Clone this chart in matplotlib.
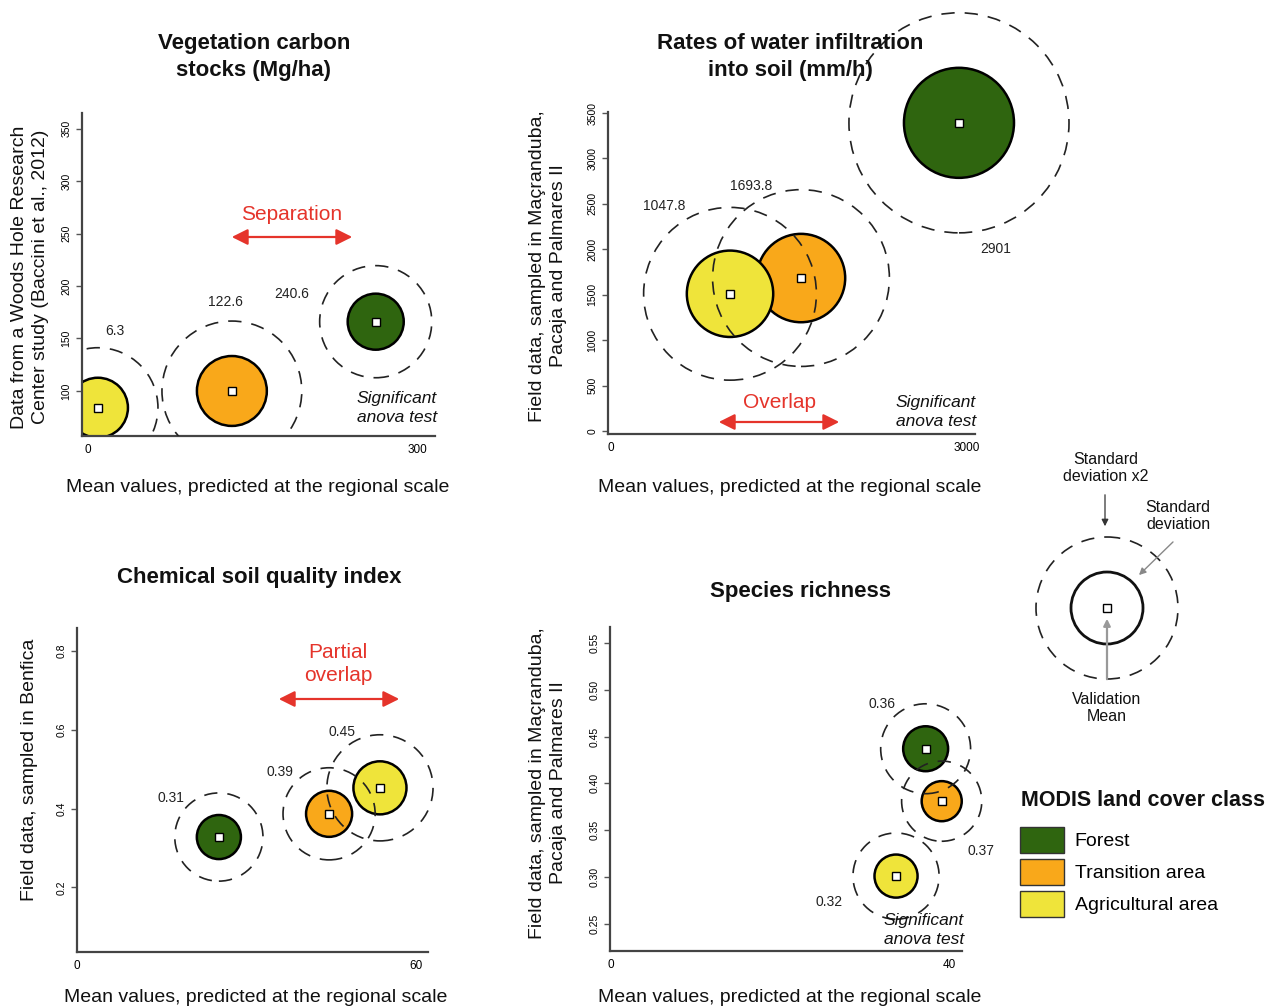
import matplotlib
matplotlib.use('Agg')
import matplotlib.pyplot as plt
from matplotlib.patches import Ellipse, Circle, Patch

plt.rcParams['font.family'] = ['Liberation Sans', 'DejaVu Sans']

W, H = 1273, 1008

# land cover classes (order: forest, transition, agricultural)
classes = ['Forest', 'Transition area', 'Agricultural area']
class_colors = ['#2f650f', '#f9a81a', '#efe43a']
red = '#e5342b'

# Vegetation carbon stocks (Mg/ha)
veg_x = [262, 131, 9]
veg_y = [166, 100, 84]
veg_sd = [26.7, 33.3, 28.6]
veg_labels = ['240.6', '122.6', '6.3']

# Rates of water infiltration (mm/h)
inf_x = [2932, 1601, 1003]
inf_y = [3392, 1685, 1512]
inf_sd = [605, 486, 475]
inf_labels = ['2901', '1693.8', '1047.8']

# Chemical soil quality index
soil_x = [25.1, 44.6, 53.6]
soil_y = [0.328, 0.387, 0.453]
soil_sd = [0.056, 0.0585, 0.0674]
soil_labels = ['0.31', '0.39', '0.45']

# Species richness
rich_x = [37.2, 39.1, 33.7]
rich_y = [0.437, 0.381, 0.301]
rich_sd = [0.024, 0.0214, 0.023]
rich_labels = ['0.36', '0.37', '0.32']

fig = plt.figure(figsize=(W / 100, H / 100), dpi=100)


def make_axes(left, top, right, bottom):
    return fig.add_axes([left / W, 1 - bottom / H, (right - left) / W, (bottom - top) / H])


def style_axes(ax, xlim, ylim, xticks, yticks, yfmt):
    ax.set_xlim(xlim)
    ax.set_ylim(ylim)
    ax.set_facecolor('none')
    ax.spines[['top', 'right']].set_visible(False)
    for s in ['left', 'bottom']:
        ax.spines[s].set_linewidth(1.6)
        ax.spines[s].set_color('#444444')
    ax.set_xticks(xticks)
    ax.set_yticks(yticks)
    ax.set_yticklabels([yfmt % v for v in yticks])
    ax.tick_params(axis='both', length=4, width=1, color='#555555')
    ax.tick_params(axis='x', labelsize=8.5, length=0, pad=6)
    ax.tick_params(axis='y', labelsize=7.5, labelrotation=90)
    for t in ax.get_yticklabels():
        t.set_va('center')


def draw_panel(ax, xs, ys, sds, labels, offsets, clip):
    p0 = ax.transData.transform((0, 0))
    p1 = ax.transData.transform((1, 1))
    ratio = (p1[1] - p0[1]) / (p1[0] - p0[0])
    for x, y, sd, c in zip(xs, ys, sds, class_colors):
        ax.add_patch(Ellipse((x, y), 2 * sd * ratio, 2 * sd, fc=c, ec='black',
                             lw=1.8, zorder=2, clip_on=clip))
    for x, y, sd in zip(xs, ys, sds):
        ax.add_patch(Ellipse((x, y), 4 * sd * ratio, 4 * sd, fill=False, ec='#222222',
                             lw=1.2, ls=(0, (8, 6)), zorder=3, clip_on=clip))
    ax.plot(xs, ys, 's', mfc='white', mec='black', ms=6, mew=1, zorder=4, clip_on=False)
    for x, y, lab, off in zip(xs, ys, labels, offsets):
        ax.annotate(lab, (x, y), xytext=off, textcoords='offset pixels',
                    ha='center', va='center', fontsize=10, color='#222222')


ax1 = make_axes(82, 113, 435, 436)
style_axes(ax1, (-5.5, 316), (57.1, 364.8), [0, 300], list(range(100, 351, 50)), '%d')
draw_panel(ax1, veg_x, veg_y, veg_sd, veg_labels, [(-84, 28), (-6, 89), (17, 77)], True)

ax2 = make_axes(608, 112, 975, 434)
style_axes(ax2, (-25, 3067), (-30, 3511), [0, 3000], list(range(0, 3501, 500)), '%d')
draw_panel(ax2, inf_x, inf_y, inf_sd, inf_labels, [(37, -126), (-50, 92), (-66, 88)], False)

ax3 = make_axes(77, 628, 428, 952)
style_axes(ax3, (0, 62.1), (0.036, 0.859), [0, 60], [0.2, 0.4, 0.6, 0.8], '%.1f')
draw_panel(ax3, soil_x, soil_y, soil_sd, soil_labels, [(-48, 39), (-49, 42), (-38, 56)], False)

ax4 = make_axes(610, 627, 962, 951)
style_axes(ax4, (-0.12, 41.5), (0.221, 0.567), [0, 40],
           [0.25, 0.30, 0.35, 0.40, 0.45, 0.50, 0.55], '%.2f')
draw_panel(ax4, rich_x, rich_y, rich_sd, rich_labels, [(-44, 45), (39, -50), (-67, -26)], False)

# overlay in pixel coordinates for titles, labels and notes
ov = fig.add_axes([0, 0, 1, 1])
ov.set_xlim(0, W)
ov.set_ylim(H, 0)
ov.axis('off')
ov.patch.set_visible(False)

title_kw = dict(ha='center', va='center', fontsize=16, fontweight='bold', color='#111111',
                linespacing=1.4)
ov.text(254, 57, 'Vegetation carbon\nstocks (Mg/ha)', **title_kw)
ov.text(790, 57, 'Rates of water infiltration\ninto soil (mm/h)', **title_kw)
ov.text(259, 577, 'Chemical soil quality index', **title_kw)
ov.text(801, 592, 'Species richness', **title_kw)

xl = 'Mean values, predicted at the regional scale'
for x, y in [(258, 488), (790, 488), (256, 997), (790, 997)]:
    ov.text(x, y, xl, ha='center', va='center', fontsize=14, color='#111111')

yl_kw = dict(ha='center', va='center', fontsize=14, rotation=90, color='#111111',
             linespacing=1.3)
ov.text(30, 277, 'Data from a Woods Hole Research\nCenter study (Baccini et al., 2012)', **yl_kw)
ov.text(548, 266, 'Field data, sampled in Maçranduba,\nPacaja and Palmares II', **yl_kw)
ov.text(30, 770, 'Field data, sampled in Benfica', **yl_kw)
ov.text(548, 783, 'Field data, sampled in Maçranduba,\nPacaja and Palmares II', **yl_kw)

sig_kw = dict(ha='right', va='center', fontsize=12.5, style='italic', color='#111111',
              linespacing=1.3)
ov.text(437, 408, 'Significant\nanova test', **sig_kw)
ov.text(976, 412, 'Significant\nanova test', **sig_kw)
ov.text(964, 930, 'Significant\nanova test', **sig_kw)

arrow_red = dict(arrowstyle='<|-|>', color=red, lw=1.6, mutation_scale=24)
ov.text(292, 215, 'Separation', ha='center', va='center', fontsize=15, color=red)
ov.annotate('', xy=(229, 237), xytext=(355, 237), arrowprops=arrow_red)
ov.text(779, 403, 'Overlap', ha='center', va='center', fontsize=15, color=red)
ov.annotate('', xy=(716, 422), xytext=(842, 422), arrowprops=arrow_red)
ov.text(338, 664, 'Partial\noverlap', ha='center', va='center', fontsize=15, color=red,
        linespacing=1.25)
ov.annotate('', xy=(276, 699), xytext=(402, 699), arrowprops=arrow_red)

# key diagram
ov.add_patch(Circle((1107, 608), 36, fill=False, ec='#111111', lw=2))
ov.add_patch(Circle((1107, 608), 71, fill=False, ec='#222222', lw=1.2, ls=(0, (8, 6))))
ov.plot([1107], [608], 's', mfc='white', mec='black', ms=6, mew=1)
key_kw = dict(ha='center', va='center', fontsize=11.5, color='#111111')
ov.text(1106, 468, 'Standard\ndeviation x2', **key_kw)
ov.text(1178, 516, 'Standard\ndeviation', **key_kw)
ov.text(1107, 708, 'Validation\nMean', **key_kw)
ov.annotate('', xy=(1105, 529), xytext=(1105, 492),
            arrowprops=dict(arrowstyle='-|>', color='#333333', lw=0.9, mutation_scale=10))
ov.annotate('', xy=(1137, 577), xytext=(1175, 540),
            arrowprops=dict(arrowstyle='-|>', color='#888888', lw=1.0, mutation_scale=10))
ov.annotate('', xy=(1107, 616), xytext=(1107, 682),
            arrowprops=dict(arrowstyle='-|>', color='#999999', lw=1.6, mutation_scale=10))

# land cover legend
ov.text(1021, 800, 'MODIS land cover class', ha='left', va='center', fontsize=15.5,
        fontweight='bold', color='#111111')
handles = [Patch(fc=c, ec='#333333', lw=1) for c in class_colors]
fig.legend(handles=handles, labels=classes, loc='upper left',
           bbox_to_anchor=(1020 / W, 1 - 827 / H), frameon=False,
           fontsize=14, handlelength=2.27, handleheight=1.68, labelspacing=0.3,
           handletextpad=0.55, borderpad=0, borderaxespad=0)

fig.savefig('out.png', dpi=100)
